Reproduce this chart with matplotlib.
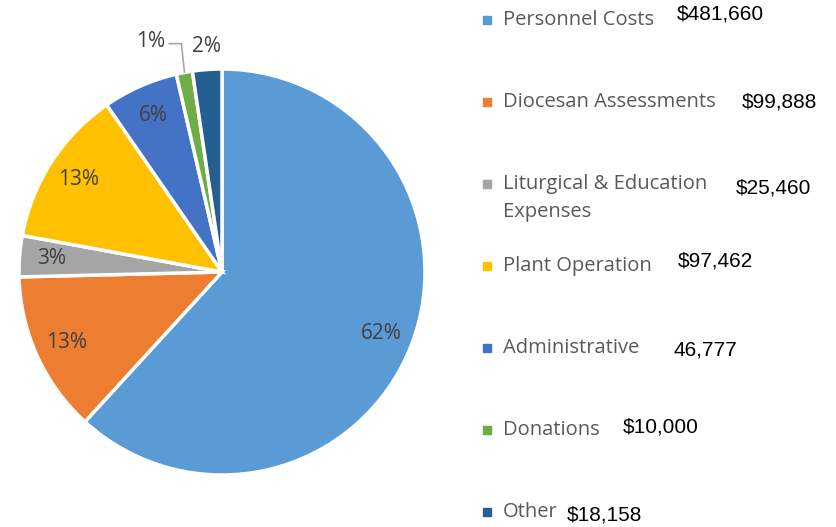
import matplotlib.pyplot as plt
from matplotlib.patches import Rectangle

categories = ["Personnel Costs", "Diocesan Assessments", "Liturgical & Education\nExpenses",
              "Plant Operation", "Administrative", "Donations", "Other"]
values = [481660, 99888, 25460, 97462, 46777, 10000, 18158]
amount_labels = ["$481,660", "$99,888", "$25,460", "$97,462", "46,777", "$10,000", "$18,158"]
colors = ["#5B9BD5", "#ED7D31", "#A5A5A5", "#FFC000", "#4472C4", "#70AD47", "#255E91"]

W, H = 837, 527
fig = plt.figure(figsize=(W / 100, H / 100), dpi=100)
label_font = "Open Sans"

# pie axes placed in pixels
cx, cy, r = 222, 272, 203
ax = fig.add_axes([(cx - r) / W, (H - cy - r) / H, 2 * r / W, 2 * r / H])
wedges, texts, autotexts = ax.pie(values, colors=colors, startangle=90, counterclock=False,
                                  autopct=lambda p: f"{p:.0f}%", pctdistance=0.84,
                                  wedgeprops=dict(edgecolor="white", linewidth=2.5),
                                  textprops=dict(color="#404040", fontsize=15, family=label_font))
ax.set_xlim(-1, 1)
ax.set_ylim(-1, 1)
ax.set_aspect("equal")
ax.axis("off")

# small slices get labels outside
autotexts[6].set_position((-0.075, 1.11))
autotexts[5].set_position((-0.35, 1.135))
ax.plot([-0.26, -0.20, -0.185], [1.125, 1.125, 0.985], color="#A6A6A6", lw=1.2, clip_on=False)

# legend
leg_y = [20, 102, 184, 266, 348, 430, 512]
amt_x = [677, 742, 736, 678, 674, 623, 567]
amt_dy = [-6, 0, 4, -5, 2, -3, 3]
for i, cat in enumerate(categories):
    y = leg_y[i]
    fig.add_artist(Rectangle((483 / W, (H - y - 4) / H), 8 / W, 8 / H,
                             transform=fig.transFigure, color=colors[i]))
    if "\n" in cat:
        fig.text(503 / W, (H - y + 10) / H, cat, fontsize=14.5, family=label_font, color="#595959",
                 va="top", ha="left", linespacing=1.55)
    else:
        fig.text(503 / W, (H - y) / H, cat, fontsize=14.5, family=label_font, color="#595959",
                 va="center", ha="left")
    fig.text(amt_x[i] / W, (H - y - amt_dy[i]) / H, amount_labels[i], fontsize=15,
             family="Liberation Sans", color="black", va="center", ha="left")

fig.savefig("out.png", dpi=100)
